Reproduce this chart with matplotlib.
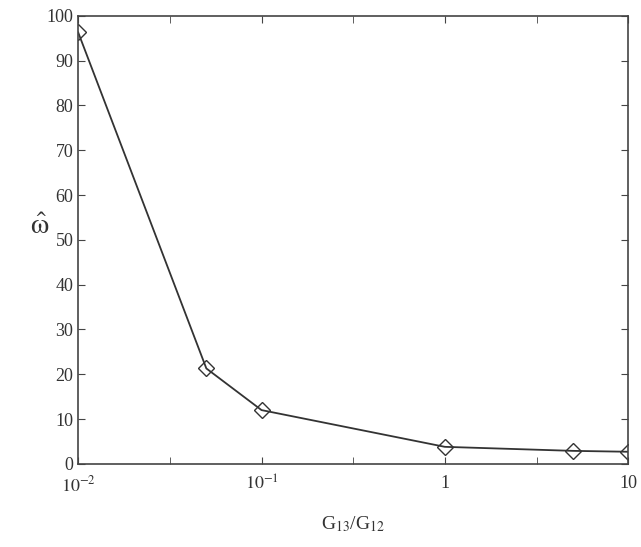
import matplotlib
matplotlib.use("Agg")
import matplotlib.pyplot as plt
from matplotlib.ticker import FixedLocator, FixedFormatter

ratio = [0.01, 0.05, 0.1, 1, 5, 10]
omega = [96.3, 21.3, 12.0, 3.8, 2.9, 2.7]
xticks = [0.01, 0.1, 1, 10]
xticklabels = ["$10^{-2}$", "$10^{-1}$", "1", "10"]
xminor = [10**-1.5, 10**-0.5, 10**0.5]
yticks = list(range(0, 101, 10))

plt.rcParams['font.family'] = ['Liberation Serif', 'DejaVu Serif']
plt.rcParams['mathtext.fontset'] = 'stix'

fig = plt.figure(figsize=(6.41, 5.47), dpi=100)
ax = fig.add_axes([0.122, 0.152, 0.858, 0.819])
ax.plot(ratio, omega, color='#333333', lw=1.3, marker='D', markersize=8,
        markerfacecolor='none', markeredgecolor='#333333', markeredgewidth=1.0)
ax.set_xscale('log')
ax.set_xlim(0.01, 10)
ax.set_ylim(0, 100)
ax.xaxis.set_major_locator(FixedLocator(xticks))
ax.xaxis.set_major_formatter(FixedFormatter(xticklabels))
ax.xaxis.set_minor_locator(FixedLocator(xminor))
ax.set_yticks(yticks)
ax.tick_params(which='both', direction='in', top=True, right=True, color='#444444',
               labelsize=13, labelcolor='#333333', length=5)
ax.tick_params(axis='x', pad=8)
for s in ax.spines.values():
    s.set_color('#444444')
    s.set_linewidth(1.2)
ax.set_xlabel("G$_{13}$/G$_{12}$", fontsize=14, color='#333333', labelpad=14)
ax.set_ylabel(r"$\hat{\mathrm{ω}}$", fontsize=21, color='#333333', rotation=0)
ax.yaxis.set_label_coords(-0.07, 0.50)
fig.savefig("out.png", dpi=100)
